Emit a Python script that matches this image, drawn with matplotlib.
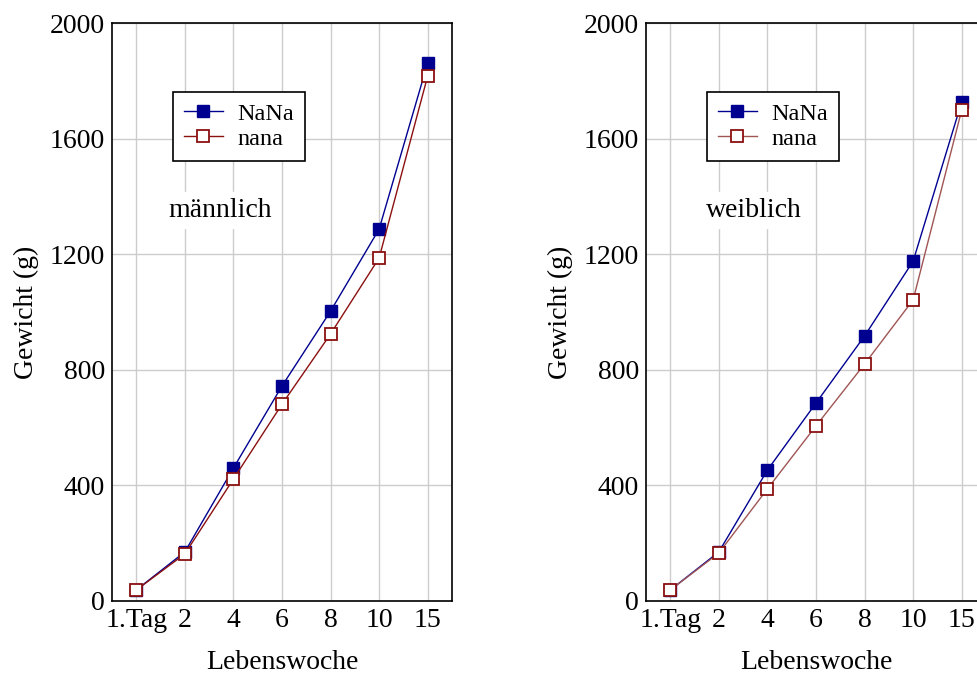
import matplotlib
matplotlib.use('Agg')
import matplotlib.pyplot as plt

plt.rcParams['font.family'] = ['Liberation Serif', 'DejaVu Serif']
plt.rcParams['font.size'] = 20

wochen = ['1.Tag', '2', '4', '6', '8', '10', '15']

# männlich
m_NaNa = [38, 170, 460, 744, 1003, 1287, 1862]
m_nana = [38, 163, 422, 681, 924, 1187, 1817]

# weiblich
w_NaNa = [38, 170, 453, 685, 917, 1176, 1727]
w_nana = [38, 166, 388, 606, 820, 1042, 1699]

fig = plt.figure(figsize=(9.78, 6.73), dpi=100)

def panel(left, NaNa, nana, text, nana_line):
    ax = fig.add_axes([left / 978, 72 / 673, 340 / 978, 578 / 673])
    x = range(len(wochen))
    ax.plot(x, NaNa, color='#000090', lw=1, marker='s', ms=8,
            mfc='#000090', mec='#000090', label='NaNa', clip_on=False, zorder=3)
    ax.plot(x, nana, color=nana_line, lw=1, marker='s', ms=8,
            mfc='white', mec='#8b1010', mew=1.3, label='nana', clip_on=False, zorder=3)
    ax.set_xlim(-0.5, 6.5)
    ax.set_ylim(0, 2000)
    ax.set_xticks(list(x))
    ax.set_xticklabels(wochen)
    ax.set_yticks([0, 400, 800, 1200, 1600, 2000])
    ax.tick_params(length=0, pad=5)
    ax.grid(True, color='#cccccc', lw=1)
    ax.set_axisbelow(True)
    for s in ax.spines.values():
        s.set_linewidth(1.2)
    ax.set_xlabel('Lebenswoche', labelpad=12)
    ax.set_ylabel('Gewicht (g)', labelpad=8)
    leg = ax.legend(loc='upper left', bbox_to_anchor=(0.179, 0.881), fancybox=False,
                    framealpha=1, edgecolor='black', handlelength=1.6,
                    handletextpad=0.6, borderpad=0.45, labelspacing=0.12,
                    borderaxespad=0, fontsize=17.5)
    leg.get_frame().set_linewidth(1.2)
    ax.text(0.317, 0.676, text, transform=ax.transAxes, ha='center', va='center',
            backgroundcolor='white')
    return ax

panel(112, m_NaNa, m_nana, 'männlich', '#8b1010')
panel(646, w_NaNa, w_nana, 'weiblich', '#a05555')

fig.savefig('out.png', dpi=100)
